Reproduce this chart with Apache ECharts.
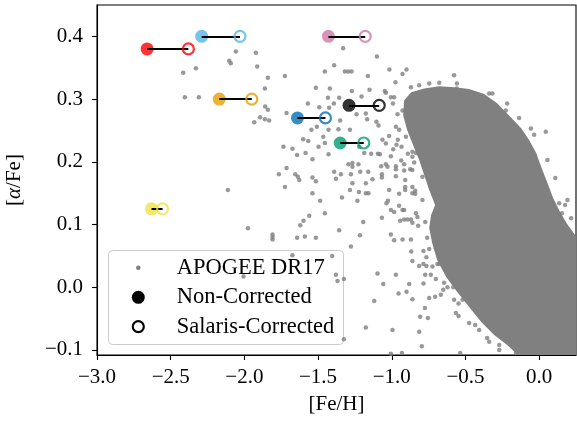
<!DOCTYPE html>
<html>
<head>
<meta charset="utf-8">
<script src="https://cdn.jsdelivr.net/npm/echarts@6/dist/echarts.min.js"></script>
<style>
  html, body { margin: 0; padding: 0; background: #ffffff; }
  #chart { width: 577px; height: 421px; }
</style>
</head>
<body>
<div id="chart"></div>
<script>
// ---- data -------------------------------------------------------------
// Tick positions
const xTicks = [-3.0, -2.5, -2.0, -1.5, -1.0, -0.5, 0.0];
const yTicks = [-0.1, 0.0, 0.1, 0.2, 0.3, 0.4];

// Programme stars: [Fe/H] before and after the Salaris correction, and [alpha/Fe]
const feHNonCorrected = [-2.66, -2.29, -2.17, -1.43, -1.29, -1.64, -1.35, -2.63];
const feHSalaris      = [-2.38, -2.03, -1.95, -1.18, -1.085, -1.45, -1.19, -2.555];
const alphaFe         = [0.38, 0.40, 0.30, 0.40, 0.29, 0.27, 0.23, 0.125];
const starColors = ['#ff0000', '#56b4e9', '#e69f00', '#cc79a7', '#000000', '#0072b2', '#009e73', '#f0e442'];

// APOGEE DR17 field stars outside the main disc sequences: [[Fe/H], [alpha/Fe]]
const apogeeSparse = [
  [-2.058,0.376],[-1.922,0.374],[-2.103,0.361],[-2.092,0.357],[-1.913,0.352],[-2.329,0.349],[-2.415,0.342],
  [-1.841,0.334],[-1.725,0.337],[-1.861,0.317],[-2.404,0.303],[-2.309,0.303],[-1.859,0.288],[-1.841,0.283],
  [-1.714,0.278],[-1.893,0.271],[-1.861,0.268],[-1.832,0.266],[-1.933,0.263],[-1.735,0.224],[-1.674,0.221],
  [-1.642,0.211],[-1.714,0.190],[-1.766,0.180],[-1.655,0.180],[-1.637,0.176],[-1.725,0.160],[-2.112,0.155],
  [-1.976,0.094],[-1.809,0.084],[-1.809,0.080],[-1.809,0.076],[-1.642,0.079],
  [-1.628,0.171],[-1.515,0.169],[-1.538,0.150],[-1.486,0.138],[-1.454,0.118],[-1.560,0.114],[-1.599,0.106],
  [-1.621,0.099],[-1.590,0.081],[-1.515,0.079],[-1.357,0.091],[-1.674,0.051],[-1.404,0.050],[-1.379,0.020],
  [-2.006,0.017],
  [-1.330,0.381],[-1.101,0.368],[-1.391,0.354],[-1.454,0.344],[-1.318,0.344],[-1.296,0.344],[-1.273,0.344],
  [-1.162,0.337],[-1.016,0.347],[-0.927,0.340],[-0.900,0.347],[-0.975,0.327],[-1.515,0.318],[-1.420,0.317],
  [-1.271,0.313],[-1.151,0.315],[-1.047,0.313],[-1.040,0.310],[-1.433,0.302],[-1.357,0.302],[-1.205,0.304],
  [-1.006,0.303],[-0.984,0.303],[-1.569,0.293],[-1.393,0.293],[-1.239,0.276],[-1.176,0.277],[-0.992,0.293],
  [-0.961,0.276],[-1.492,0.287],[-1.425,0.286],[-1.350,0.266],[-1.104,0.264],[-1.090,0.258],[-1.167,0.268],
  [-1.508,0.256],[-1.545,0.251],[-1.429,0.251],[-1.362,0.252],[-1.284,0.251],[-1.465,0.240],[-1.454,0.230],
  [-1.601,0.236],[-1.567,0.233],[-1.585,0.214],[-1.497,0.224],[-1.429,0.212],[-1.221,0.224],[-1.140,0.213],
  [-1.094,0.213],[-1.018,0.241],[-0.959,0.235],[-0.934,0.224],
  [-1.538,0.204],[-1.538,0.175],[-1.391,0.184],[-1.345,0.180],[-1.379,0.173],[-1.294,0.196],[-1.267,0.198],
  [-1.267,0.192],[-1.226,0.196],[-1.214,0.184],[-1.160,0.184],[-1.277,0.180],[-1.267,0.166],[-1.176,0.166],
  [-1.131,0.172],[-1.187,0.214],[-1.081,0.212],[-0.990,0.220],[-0.968,0.227],[-1.006,0.209],[-0.891,0.213],
  [-0.860,0.216],[-0.836,0.214],[-1.072,0.193],[-1.040,0.196],[-1.029,0.192],[-0.972,0.193],[-0.972,0.188],
  [-0.936,0.202],[-0.916,0.196],[-0.848,0.199],[-1.067,0.180],[-1.067,0.175],[-0.972,0.177],[-0.916,0.186],
  [-0.909,0.171],[-0.875,0.188],[-1.284,0.155],[-1.223,0.152],[-1.176,0.150],[-1.158,0.150],[-1.338,0.143],
  [-1.233,0.138],[-1.018,0.155],[-0.950,0.149],[-0.909,0.160],[-0.909,0.155],[-0.841,0.154],[-0.841,0.149],
  [-1.026,0.138],[-1.036,0.134],[-1.006,0.123],[-0.984,0.120],[-0.950,0.130],[-0.927,0.123],[-0.916,0.123],
  [-1.067,0.111],[-1.194,0.104],[-0.943,0.106],[-0.916,0.108],[-0.893,0.108],[-0.870,0.108],[-0.860,0.103],
  [-0.826,0.112],[-0.821,0.098],[-1.006,0.084],[-0.984,0.075],[-1.216,0.083],[-1.277,0.065],[-0.927,0.076],
  [-0.870,0.076],
  [-0.868,0.057],[-0.785,0.058],[-0.746,0.061],[-0.701,0.062],[-0.672,0.070],[-0.860,0.042],[-0.814,0.034],
  [-0.785,0.037],[-0.765,0.034],[-0.765,0.048],[-0.690,0.037],[-0.678,0.037],[-0.651,0.051],[-0.629,0.028],
  [-1.097,0.022],[-0.972,0.020],[-0.773,0.020],[-0.735,0.020],[-0.701,0.013],[-1.058,0.005],[-0.882,0.005],
  [-0.785,0.006],[-0.954,-0.010],[-0.900,-0.007],[-0.860,-0.019],[-0.746,-0.017],[-0.706,-0.015],[-0.667,-0.012],
  [-0.651,-0.004],[-0.622,0.000],[-0.583,0.000],[-0.599,0.013],[-1.119,-0.022],[-0.775,-0.033],[-0.807,-0.047],
  [-0.755,-0.049],[-0.547,-0.026],[-0.547,-0.046],[-1.176,-0.064],[-0.995,-0.068],[-0.814,-0.071],[-0.796,-0.094],
  [-1.006,-0.106],[-0.931,-0.105],[-1.325,0.013],[-1.325,-0.083],[-1.368,0.010],[-0.536,-0.105],
  [-0.870,0.319],[-0.814,0.322],[-0.746,0.325],[-0.678,0.326],[-0.577,0.338],[-0.558,0.325],[-1.063,0.235],
  [-1.040,0.229],[-0.972,0.256],[-0.950,0.251],[-0.860,0.208],[-0.860,0.160],[-0.860,0.150],[-0.792,0.139],
  [-0.836,0.118],[-0.792,0.176],[-0.769,0.203],[-0.814,0.229],[-0.836,0.245],
  [0.045,0.248],[-0.056,0.253],[0.056,0.203],[0.192,0.139],[0.136,0.134],[0.154,0.118],[-0.226,0.282],
  [-0.339,0.309],[-0.317,0.309],[-0.558,0.317],[-0.927,0.282],[-0.904,0.240],[-0.860,0.187],
  [-0.520,-0.020],[-0.565,-0.041],[-0.475,-0.057],[-0.407,-0.068],[-0.339,-0.087],[-0.271,-0.100],[-0.158,-0.105],
  [-0.724,0.033],[-0.217,0.293],[-0.136,0.270],[-0.034,0.243],[0.109,0.174],[0.176,0.131],[0.217,0.110],
  [-0.577,-0.020],[-0.434,-0.060],[-0.271,-0.092],[-0.353,-0.081],[-0.645,0.007],[-0.760,0.079],[-0.773,0.104]
];

// Outline of the densely populated thick/thin disc sequences, [[Fe/H], [alpha/Fe]]
const apogeeDenseOutline = [
  [-0.916,0.298],[-0.868,0.311],[-0.780,0.317],[-0.678,0.3205],[-0.577,0.319],[-0.475,0.316],[-0.373,0.308],
  [-0.285,0.2935],[-0.204,0.274],[-0.122,0.2537],[-0.068,0.2346],[-0.020,0.2139],[0.014,0.1916],[0.054,0.1677],
  [0.095,0.1422],[0.142,0.1199],[0.190,0.1008],[0.26,0.078],[0.26,-0.11],[-0.136,-0.11],[-0.217,-0.0919],
  [-0.305,-0.076],[-0.393,-0.0553],[-0.475,-0.0314],[-0.556,-0.0075],[-0.631,0.0164],[-0.692,0.0435],
  [-0.726,0.0705],[-0.746,0.0944],[-0.733,0.1151],[-0.706,0.131],[-0.746,0.155],[-0.780,0.1788],
  [-0.814,0.2027],[-0.855,0.2266],[-0.895,0.2505],[-0.923,0.274]
];

// ---- chart ------------------------------------------------------------
const FONT = 'Liberation Serif, DejaVu Serif, serif';
const FS = 21;
const LEGEND_FS = 22.5;
const GRAY = '#808080';
const fmt = v => v.toFixed(1).replace('-', '\u2212');

const chart = echarts.init(document.getElementById('chart'), null, { renderer: 'canvas' });

const axisCommon = {
  type: 'value',
  nameLocation: 'middle',
  nameTextStyle: { fontFamily: FONT, fontSize: FS, color: '#000' },
  axisLine: { show: true, onZero: false, lineStyle: { color: '#000', width: 1.1 } },
  splitLine: { show: false }
};

chart.setOption({
  animation: false,
  grid: {
    left: 97, right: 1, top: 5, bottom: 66,
    outerBoundsMode: 'none', containLabel: false,
    show: true, borderColor: '#000', borderWidth: 1.1
  },
  xAxis: Object.assign({}, axisCommon, {
    min: -3, max: 0.25,
    name: '[Fe/H]', nameGap: 39,
    axisTick: { show: true, inside: false, length: 5, lineStyle: { color: '#000', width: 1.1 }, customValues: xTicks },
    axisLabel: { customValues: xTicks, formatter: fmt, margin: 12, fontFamily: FONT, fontSize: FS, color: '#000' }
  }),
  yAxis: Object.assign({}, axisCommon, {
    min: -0.108, max: 0.45,
    name: '[{a|α}/Fe]', nameGap: 72,
    nameTextStyle: { fontFamily: FONT, fontSize: FS, color: '#000',
      rich: { a: { fontFamily: FONT, fontSize: FS, fontStyle: 'italic', color: '#000' } } },
    axisTick: { show: true, inside: false, length: 5, lineStyle: { color: '#000', width: 1.1 }, customValues: yTicks },
    axisLabel: { customValues: yTicks, formatter: fmt, margin: 14, fontFamily: FONT, fontSize: FS, color: '#000' }
  }),
  series: [
    {
      name: 'APOGEE DR17 dense',
      type: 'custom',
      coordinateSystem: 'cartesian2d',
      clip: true,
      silent: true,
      z: 1,
      data: [apogeeDenseOutline[0]],
      renderItem: (params, api) => ({
        type: 'polygon',
        shape: { points: apogeeDenseOutline.map(p => api.coord(p)) },
        style: { fill: GRAY }
      })
    },
    {
      name: 'APOGEE DR17',
      type: 'scatter',
      clip: true,
      silent: true,
      z: 2,
      symbol: 'circle',
      symbolSize: 4.5,
      itemStyle: { color: GRAY },
      data: apogeeSparse
    },
    {
      name: 'Non-Corrected',
      type: 'scatter',
      silent: true,
      z: 3,
      symbol: 'circle',
      symbolSize: 13,
      data: feHNonCorrected.map((x, i) => ({ value: [x, alphaFe[i]], itemStyle: { color: starColors[i] } }))
    },
    {
      name: 'Correction',
      type: 'lines',
      coordinateSystem: 'cartesian2d',
      silent: true,
      z: 4,
      lineStyle: { color: '#000', width: 2, opacity: 1 },
      data: feHNonCorrected.map((x, i) => ({ coords: [[x, alphaFe[i]], [feHSalaris[i], alphaFe[i]]] }))
    },
    {
      name: 'Salaris-Corrected',
      type: 'scatter',
      silent: true,
      z: 5,
      symbol: 'circle',
      symbolSize: 11,
      data: feHSalaris.map((x, i) => ({
        value: [x, alphaFe[i]],
        itemStyle: { color: 'rgba(255,255,255,0)', borderColor: starColors[i], borderWidth: 2.2 }
      }))
    }
  ],
  // Legend panel
  graphic: [
    {
      type: 'group', left: 108, top: 250, z: 100,
      children: [
        { type: 'rect', shape: { x: 0.5, y: 0.5, width: 235, height: 94, r: 4 },
          style: { fill: 'rgba(255,255,255,0.8)', stroke: '#cccccc', lineWidth: 1 } },
        { type: 'circle', shape: { cx: 30.3, cy: 17.7, r: 2.3 }, style: { fill: GRAY } },
        { type: 'circle', shape: { cx: 30.3, cy: 47.3, r: 6.5 }, style: { fill: '#000' } },
        { type: 'circle', shape: { cx: 30.3, cy: 76.7, r: 5.5 }, style: { fill: 'none', stroke: '#000', lineWidth: 2.2 } },
        { type: 'text', style: { x: 68.7, y: 17.7, text: 'APOGEE DR17', fontFamily: FONT, fontSize: LEGEND_FS, fill: '#000', verticalAlign: 'middle' } },
        { type: 'text', style: { x: 68.7, y: 47.3, text: 'Non-Corrected', fontFamily: FONT, fontSize: LEGEND_FS, fill: '#000', verticalAlign: 'middle' } },
        { type: 'text', style: { x: 68.7, y: 76.7, text: 'Salaris-Corrected', fontFamily: FONT, fontSize: LEGEND_FS, fill: '#000', verticalAlign: 'middle' } }
      ]
    }
  ]
});
</script>
</body>
</html>
